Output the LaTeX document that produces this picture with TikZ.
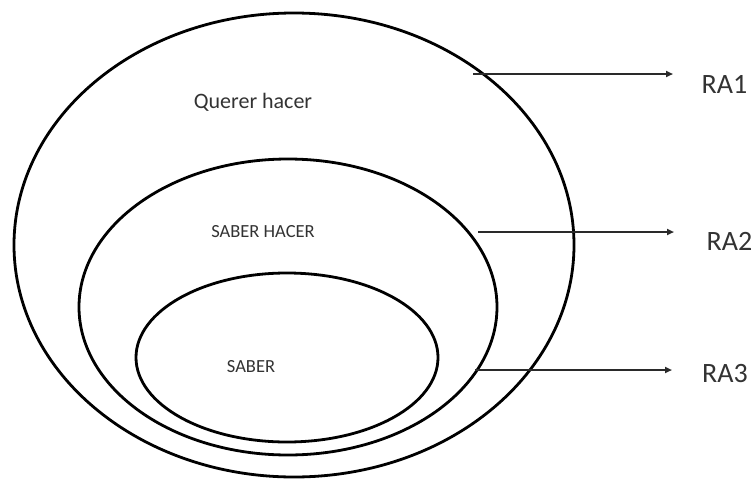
\documentclass[tikz,border=0pt]{standalone}
\usepackage{fontspec}
\setmainfont{Carlito}
\usetikzlibrary{shapes.geometric,arrows.meta}
\definecolor{txt}{HTML}{333333}
\definecolor{arr}{HTML}{2A2A2A}
\begin{document}
\begin{tikzpicture}[x=1pt,y=-1pt,
  ring/.style={draw=black,line width=2.8pt,ellipse,inner sep=0pt},
  lbl/.style={text=txt,inner sep=0pt,anchor=base},
  ralbl/.style={text=txt,inner sep=0pt,anchor=base,font=\fontsize{28}{30}\selectfont},
  conn/.style={draw=arr,line width=1.8pt,-{Triangle[length=7pt,width=6pt]}}]
\useasboundingbox (0,0) rectangle (753,480);
\node[ring,minimum width=560pt,minimum height=464pt] (outer) at (294,245) {};
\node[ring,minimum width=418pt,minimum height=296pt] (middle) at (288,307) {};
\node[ring,minimum width=302pt,minimum height=169pt] (inner) at (287,357.5) {};
\node[lbl,font=\fontsize{22}{24}\selectfont] (qh) at (253,108) {Querer hacer};
\node[lbl,font=\fontsize{18.5}{20}\selectfont] (sh) at (263,237) {SABER HACER};
\node[lbl,font=\fontsize{18.5}{20}\selectfont] (sb) at (251,372) {SABER};
\node[ralbl] (ra1) at (724.5,93) {RA1};
\node[ralbl] (ra2) at (729.5,250) {RA2};
\node[ralbl] (ra3) at (725,382) {RA3};
\coordinate (s1) at (473,74);
\coordinate (e1) at (673,74);
\coordinate (s2) at (478,232);
\coordinate (e2) at (674,232);
\coordinate (s3) at (475,370);
\coordinate (e3) at (672,370);
\draw[conn] (s1) -- (e1);
\draw[conn] (s2) -- (e2);
\draw[conn] (s3) -- (e3);
\end{tikzpicture}
\end{document}
